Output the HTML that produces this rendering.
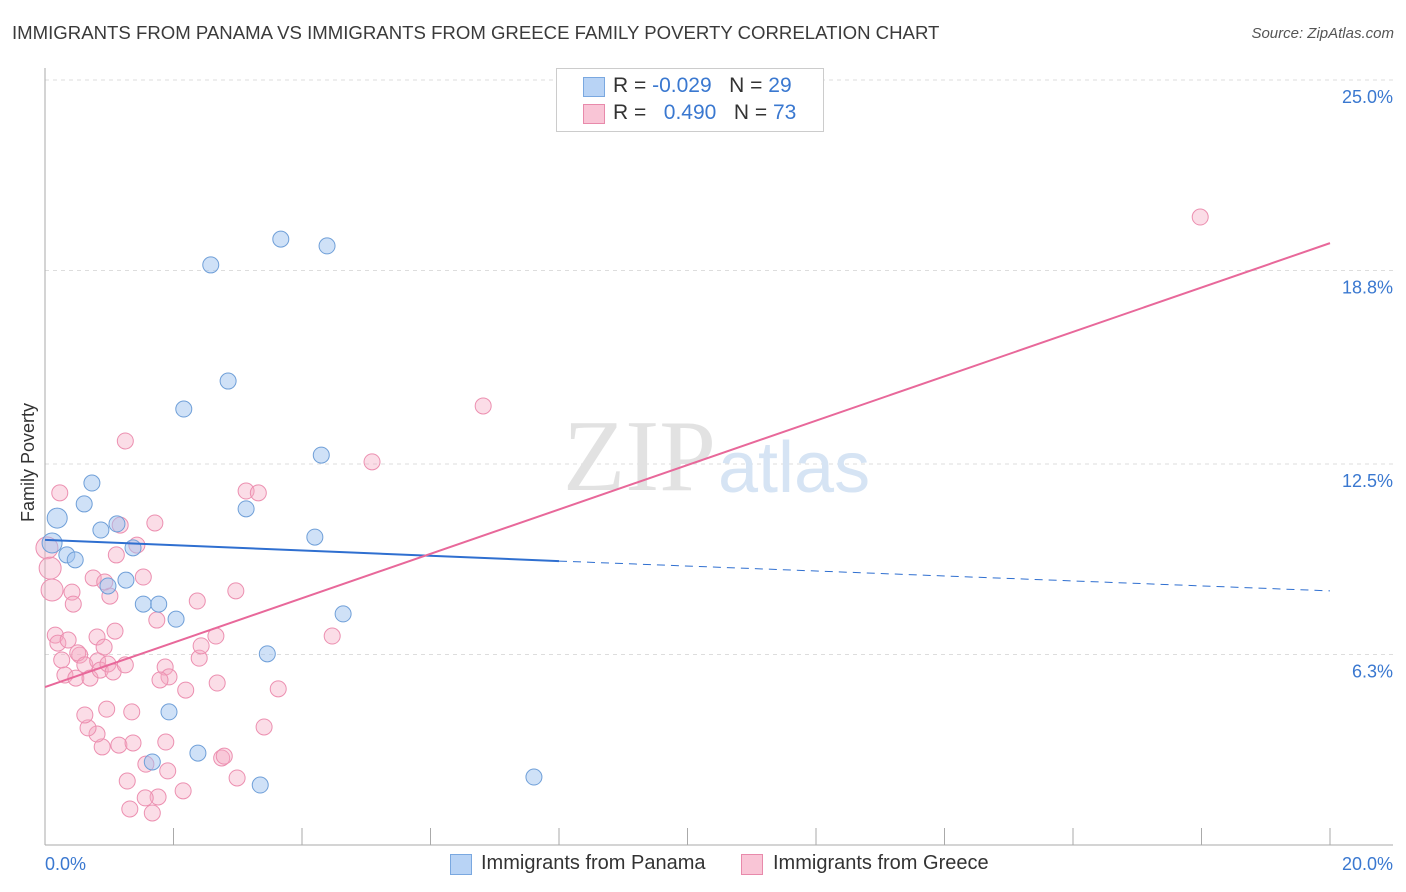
<!DOCTYPE html>
<html><head><meta charset="utf-8"><style>
body{margin:0;background:#fff;font-family:"Liberation Sans",sans-serif;}
#wrap{position:relative;width:1406px;height:892px;overflow:hidden}
.t{position:absolute;white-space:nowrap}
</style></head><body>
<div id="wrap">
<div class="t" style="left:12px;top:22px;font-size:18.6px;color:#3a3a3a">IMMIGRANTS FROM PANAMA VS IMMIGRANTS FROM GREECE FAMILY POVERTY CORRELATION CHART</div>
<div class="t" style="right:12px;top:25px;font-size:15px;color:#555;font-style:italic">Source: ZipAtlas.com</div>
<div class="t" style="font-size:18px;color:#333;transform:rotate(-90deg);transform-origin:left top;left:18px;top:522px">Family Poverty</div>
<svg id="svg" width="1406" height="892" style="position:absolute;left:0;top:0">
<text x="716" y="490" font-size="102" fill="#e2e2e2" text-anchor="end" font-family="Liberation Serif,serif">ZIP</text>
<text x="718" y="492" font-size="72" fill="#d6e4f4" font-family="Liberation Sans,sans-serif">atlas</text>
</svg>
<div style="position:absolute;left:556px;top:68px;width:266px;height:62px;border:1px solid #ccc;background:#fff">
<div style="position:absolute;left:26px;top:8px;width:20px;height:18px;background:#b8d3f5;border:1px solid #7aa8e0"></div>
<div style="position:absolute;left:26px;top:35px;width:20px;height:18px;background:#f9c5d6;border:1px solid #e88aab"></div>
<div class="t" style="left:56px;top:5px;font-size:21px;color:#333">R = <span style="color:#3a78d0">-0.029</span>&nbsp;&nbsp;&nbsp;N = <span style="color:#3a78d0">29</span></div>
<div class="t" style="left:56px;top:32px;font-size:21px;color:#333">R = &nbsp;&nbsp;<span style="color:#3a78d0">0.490</span>&nbsp;&nbsp;&nbsp;N = <span style="color:#3a78d0">73</span></div>
</div>
<div style="position:absolute;left:450px;top:854px;width:20px;height:19px;background:#b8d3f5;border:1px solid #7aa8e0"></div>
<div class="t" style="left:481px;top:852px;font-size:20px;color:#333">Immigrants from Panama</div>
<div style="position:absolute;left:741px;top:854px;width:20px;height:19px;background:#f9c5d6;border:1px solid #e88aab"></div>
<div class="t" style="left:773px;top:852px;font-size:20px;color:#333">Immigrants from Greece</div>
</div>
<script>
const yTicks=[25.0,18.8,12.5,6.3];
const yTickLabels=["25.0%","18.8%","12.5%","6.3%"];
const xTickLabels=["0.0%","20.0%"];
const blueX=[0.19,0.11,0.34,0.47,0.73,0.61,0.87,1.12,1.37,0.98,1.26,1.53,1.77,2.04,2.16,2.58,2.85,3.67,4.39,4.30,3.13,4.20,4.64,3.46,1.93,1.67,2.38,3.35,7.61];
const blueY=[10.74,9.93,9.54,9.38,11.88,11.20,10.35,10.55,9.77,8.53,8.72,7.94,7.94,7.45,14.29,18.98,15.20,19.82,19.60,12.79,11.04,10.12,7.62,6.32,4.43,2.80,3.09,2.05,2.31];
const pinkX=[0.03,0.08,0.11,0.23,0.16,0.20,0.36,0.26,0.31,0.42,0.44,0.48,0.54,0.51,0.62,0.70,0.75,0.81,0.82,0.86,0.92,0.98,1.01,0.93,1.09,1.11,1.06,1.25,1.17,1.25,1.43,1.53,1.71,1.74,1.87,1.93,1.79,1.88,1.91,1.57,1.76,1.56,1.32,1.67,1.28,1.15,0.89,0.81,0.67,0.62,0.96,1.35,1.37,2.19,2.15,2.37,2.40,2.43,2.66,2.68,2.75,2.79,2.99,2.97,3.13,3.32,3.41,3.63,4.47,5.09,6.82,17.98];
const pinkY=[9.77,9.11,8.40,11.56,6.93,6.67,6.77,6.12,5.63,8.33,7.94,5.53,6.28,6.35,5.96,5.53,8.79,6.87,6.09,5.79,6.54,5.99,8.20,8.66,7.06,9.54,5.73,5.96,10.51,13.25,9.86,8.82,10.58,7.42,5.89,5.57,5.47,3.45,2.51,2.73,1.66,1.63,1.27,1.14,2.18,3.35,3.29,3.71,3.91,4.33,4.52,4.43,3.42,5.14,1.86,8.04,6.18,6.58,6.90,5.37,2.93,2.99,2.28,8.37,11.62,11.56,3.94,5.18,6.90,12.57,14.39,20.54];
const blueTrendX=[0,8.0,20];
const blueTrendY=[10.03,9.34,8.37];
const pinkTrendX=[0,20];
const pinkTrendY=[5.24,19.69];
const X=v=>45+v/20*1285;
const Y=v=>848-v/25*768;
const svg=document.getElementById('svg');
const NS='http://www.w3.org/2000/svg';
function mk(tag,attrs){const e=document.createElementNS(NS,tag);for(const k in attrs)e.setAttribute(k,attrs[k]);svg.insertBefore(e,svg.firstChild);return e;}
function add(tag,attrs){const e=document.createElementNS(NS,tag);for(const k in attrs)e.setAttribute(k,attrs[k]);svg.appendChild(e);return e;}
yTicks.forEach((t,i)=>{
 const l=mk('line',{x1:45,x2:1393,y1:Y(t),y2:Y(t),stroke:'#ddd','stroke-dasharray':'4,4'});
 
 
 const tx=add('text',{x:1393,y:Y(t)+23,'font-size':18,fill:'#3a78d0','text-anchor':'end'});
 tx.textContent=yTickLabels[i];
 
 
});
const ax=add('line',{x1:45,x2:45,y1:68,y2:845,stroke:'#aaa'});


const bx=add('line',{x1:45,x2:1393,y1:845,y2:845,stroke:'#aaa'});


for(let i=0;i<=10;i++){const t=add('line',{x1:X(i*2),x2:X(i*2),y1:828,y2:845,stroke:'#aaa'});
 
 }
[[0,45,'start'],[1,1393,'end']].forEach(([i,x,a])=>{const t=add('text',{x:x,y:870,'font-size':18,fill:'#3a78d0','text-anchor':a});t.textContent=xTickLabels[i];
 
 });
pinkX.forEach((v,i)=>{const c=add('circle',{cx:X(v),cy:Y(pinkY[i]),r:i<3?11:8,fill:'rgba(246,170,196,0.4)',stroke:'#ec8fb0','stroke-width':1});
 
 });
blueX.forEach((v,i)=>{const c=add('circle',{cx:X(v),cy:Y(blueY[i]),r:i<2?10:8,fill:'rgba(160,196,240,0.5)',stroke:'#6f9fd8','stroke-width':1});
 
 });
const b1=add('line',{x1:X(blueTrendX[0]),y1:Y(blueTrendY[0]),x2:X(blueTrendX[1]),y2:Y(blueTrendY[1]),stroke:'#2f6fd0','stroke-width':2});


const b2=add('line',{x1:X(blueTrendX[1]),y1:Y(blueTrendY[1]),x2:X(blueTrendX[2]),y2:Y(blueTrendY[2]),stroke:'#2f6fd0','stroke-width':1,'stroke-dasharray':'8,6'});


const p1=add('line',{x1:X(pinkTrendX[0]),y1:Y(pinkTrendY[0]),x2:X(pinkTrendX[1]),y2:Y(pinkTrendY[1]),stroke:'#e8689a','stroke-width':2});


</script>
</body></html>
